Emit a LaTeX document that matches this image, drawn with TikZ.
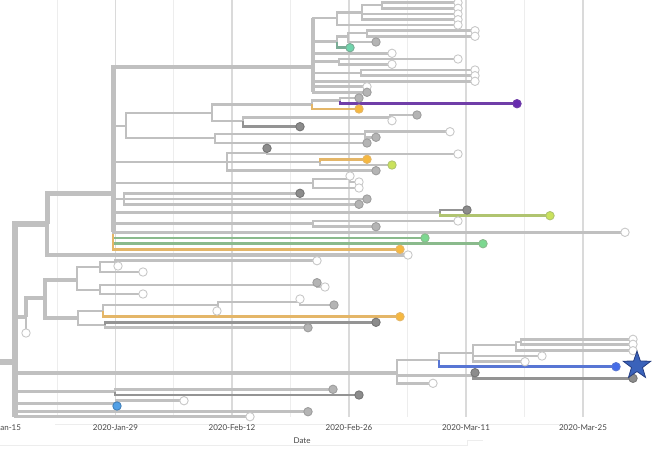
\documentclass[tikz,border=0pt]{standalone}
\usepackage{fontspec}
\setmainfont{Lato}
\usetikzlibrary{shapes.geometric}

\definecolor{brgrey}{RGB}{192,192,192}
\definecolor{brdark}{RGB}{148,148,148}
\definecolor{gridmaj}{RGB}{218,218,218}
\definecolor{gridmin}{RGB}{237,237,237}
\definecolor{leafline}{RGB}{200,200,200}
\definecolor{leafgrey}{RGB}{180,180,180}
\definecolor{leafgreyline}{RGB}{158,158,158}
\definecolor{leafdark}{RGB}{140,140,140}
\definecolor{leafdarkline}{RGB}{118,118,118}
\definecolor{orangebr}{RGB}{228,182,104}
\definecolor{orangeleaf}{RGB}{246,184,64}
\definecolor{purplebr}{RGB}{112,62,168}
\definecolor{purpleleaf}{RGB}{104,44,176}
\definecolor{tealbr}{RGB}{122,172,150}
\definecolor{tealleaf}{RGB}{112,212,172}
\definecolor{greenbr}{RGB}{138,186,140}
\definecolor{greenleaf}{RGB}{124,216,144}
\definecolor{olivebr}{RGB}{176,196,112}
\definecolor{limeleaf}{RGB}{202,226,92}
\definecolor{bluebr}{RGB}{88,118,212}
\definecolor{blueleaf}{RGB}{68,108,232}
\definecolor{skyleaf}{RGB}{82,160,230}
\definecolor{starfill}{RGB}{58,98,186}
\definecolor{starline}{RGB}{38,62,130}
\definecolor{axistext}{RGB}{70,70,70}

\begin{document}
\begin{tikzpicture}
[x=1pt, y=-1pt, line join=miter,
br/.style={draw=brgrey, line width=2.6pt},
brk/.style={br, draw=brdark},
brmid/.style={br, line width=3.6pt},
brbig/.style={br, line width=5pt},
brtrunk/.style={br, line width=6.5pt},
leaf/.style={circle, inner sep=0pt, minimum size=8.4pt, line width=0.9pt},
leafw/.style={leaf, fill=white, draw=leafline},
leafg/.style={leaf, fill=leafgrey, draw=leafgreyline},
leafk/.style={leaf, fill=leafdark, draw=leafdarkline},
axislab/.style={text=axistext, font=\fontsize{8}{9}\selectfont, inner sep=1pt}
]
\useasboundingbox (0,0) rectangle (660,450);

% time grid
\foreach \gx in {57,173.5,290.5,407.5,524.5}
  \draw[gridmin, line width=1pt] (\gx,0) -- (\gx,417);
\foreach \gx in {115.5,232,349,466,583}
  \draw[gridmaj, line width=1.1pt] (\gx,0) -- (\gx,417);
\draw[gridmin, line width=0.8pt] (55,424) -- (573,424);
\draw[gridmin, line width=0.8pt] (0,445) -- (467,445) -- (467,440) -- (483,440);
\foreach \gx/\lab [count=\i] in {-1.5/2020-Jan-15, 115.5/2020-Jan-29, 232/2020-Feb-12,
    349/2020-Feb-26, 466/2020-Mar-11, 583/2020-Mar-25}
  \node[axislab] (date\i) at (\gx,428) {\lab};
\node[axislab] (datetitle) at (302,441) {Date};

% internal nodes
\coordinate (root0) at (0,362);
\coordinate (root) at (15,362);
\coordinate (R) at (47,224);
\coordinate (C) at (113,193);
\coordinate (T) at (313,67);
\coordinate (A0) at (337,18);
\coordinate (A1) at (362,12.3);
\coordinate (A2) at (382,5);
\coordinate (B0) at (337,41.7);
\coordinate (B1) at (348,36.7);
\coordinate (B2) at (367,33);
\coordinate (Tc) at (339,61.7);
\coordinate (Td) at (361,72.8);
\coordinate (D) at (126,126);
\coordinate (E) at (212,113);
\coordinate (F) at (215,138);
\coordinate (G) at (312,104.3);
\coordinate (G2) at (340,100.7);
\coordinate (H) at (243,121);
\coordinate (I) at (390,117.7);
\coordinate (J) at (365,134);
\coordinate (K) at (227,162);
\coordinate (L) at (267,153);
\coordinate (M) at (320,162);
\coordinate (N) at (313,183);
\coordinate (N2) at (350,179);
\coordinate (O) at (124,199);
\coordinate (P) at (440,212.7);
\coordinate (Q) at (313,223.5);
\coordinate (S) at (26,317);
\coordinate (U) at (45,298);
\coordinate (V) at (77,280);
\coordinate (V1) at (100,267);
\coordinate (V1a) at (115,262);
\coordinate (V2) at (100,290);
\coordinate (V2a) at (317,285);
\coordinate (W) at (78,318);
\coordinate (W1) at (103,311);
\coordinate (W1b) at (105,325);
\coordinate (X) at (218,305);
\coordinate (X2) at (300,302);
\coordinate (Y) at (397,372.7);
\coordinate (Y1) at (439,360);
\coordinate (Y2) at (473,375.5);
\coordinate (Y3) at (473,353);
\coordinate (Y4) at (516,345);
\coordinate (Y5) at (521,341.8);
\coordinate (Z) at (115,391.7);
\coordinate (Zb) at (116,403.3);

% tips
\coordinate (a1) at (458,2.7);   \coordinate (a2) at (458,8.3);
\coordinate (a3) at (458,14);    \coordinate (a4) at (458,19.7);
\coordinate (a5) at (458,25);
\coordinate (b1) at (475,30.7);  \coordinate (b2) at (475,36.3);
\coordinate (b3) at (376,42);    \coordinate (b4) at (350,47.7);
\coordinate (t1) at (392,53.3);
\coordinate (c1) at (458,59);    \coordinate (c2) at (392,64.3);
\coordinate (d1) at (475,70);    \coordinate (d2) at (475,75.7);
\coordinate (t2) at (475,81.3);  \coordinate (t3) at (367,86.7);
\coordinate (t4) at (367,92.3);
\coordinate (g1) at (359,98);    \coordinate (g2) at (517,103.7);
\coordinate (g3) at (359,109);
\coordinate (i1) at (417,115);   \coordinate (i2) at (392,120.7);
\coordinate (h1) at (300,126.7);
\coordinate (j1) at (450,131.7); \coordinate (j2) at (376,137.3);
\coordinate (f1) at (367,143);
\coordinate (l1) at (267,148.3); \coordinate (l2) at (458,154);
\coordinate (m1) at (367,159.3); \coordinate (m2) at (392,165);
\coordinate (k1) at (376,170.7);
\coordinate (n1) at (350,176);   \coordinate (n2) at (359,182);
\coordinate (n3) at (359,188);
\coordinate (o1) at (300,193.3); \coordinate (o2) at (367,199);
\coordinate (o3) at (359,204.3);
\coordinate (p1) at (467,210);   \coordinate (p2) at (550,215.7);
\coordinate (q1) at (458,221);   \coordinate (q2) at (376,226.7);
\coordinate (c5) at (625,232.3); \coordinate (c6) at (425,238);
\coordinate (c7) at (483,243.7); \coordinate (c8) at (400,249.3);
\coordinate (r1) at (408,255);
\coordinate (v1) at (317,260.7); \coordinate (v2) at (118,266);
\coordinate (v3) at (143,272);
\coordinate (v4) at (317,282.7); \coordinate (v5) at (325,287);
\coordinate (v6) at (143,294);
\coordinate (x1) at (300,299);   \coordinate (x2) at (334,305);
\coordinate (x3) at (217,311);
\coordinate (w1) at (400,316.7); \coordinate (w2) at (376,322.3);
\coordinate (w3) at (308,327.7);
\coordinate (s1) at (26,333);
\coordinate (y1) at (633,339.3); \coordinate (y2) at (633,344.3);
\coordinate (y3) at (633,350.7); \coordinate (y4) at (542,356);
\coordinate (y5) at (525,361.7); \coordinate (y6) at (616,366.7);
\coordinate (y7) at (475,372.7); \coordinate (y8) at (633,378.3);
\coordinate (y9) at (433,383.3);
\coordinate (z1) at (333,389.3); \coordinate (z2) at (359,395);
\coordinate (z3) at (184,400.7); \coordinate (z4) at (117,406);
\coordinate (z5) at (308,411.7); \coordinate (z6) at (250,416.7);

% coloured branches off the big clade go under its stem
\draw[br, draw=greenbr] (C) |- (c6) (C) |- (c7);
\draw[br, draw=orangebr] (C) |- (c8);

% backbone
\draw[brtrunk] (root0) -- (root) (root |- R) -- (root |- z6) (root) |- (R);
\draw[brbig] (R) |- (C) (C |- T) -- (C |- c5);
\draw[brmid] (C) |- (T) (R) |- (r1) (T |- A0) -- (T |- t4);
\draw[brmid] (root) |- (S) (S) |- (U) (U) |- (V) (U) |- (W) (root) |- (Y);

% grey branches
\draw[br] (root) |- (Z) (root) |- (Zb) (root) |- (z5) (root) |- (z6)
  (C) |- (D) (C) |- (K) (C) |- (N) (C) |- (O) (C) |- (P) (C) |- (Q) (C) |- (c5)
  (T) |- (A0) (T) |- (B0) (T) |- (t1) (T) |- (Tc) (T) |- (Td) (T) |- (t2) (T) |- (t3) (T) |- (t4)
  (A0) |- (A1) (A0) |- (a5) (A1) |- (A2) (A1) |- (a3) (A1) |- (a4) (A2) |- (a1) (A2) |- (a2)
  (B0) |- (B1) (B1) |- (B2) (B1) |- (b3) (B2) |- (b1) (B2) |- (b2)
  (Tc) |- (c1) (Tc) |- (c2) (Td) |- (d1) (Td) |- (d2)
  (D) |- (E) (D) |- (F) (E) |- (G) (E) |- (H) (G) |- (G2) (G2) |- (g1)
  (H) |- (I) (I) |- (i1) (I) |- (i2)
  (F) |- (J) (F) |- (f1) (J) |- (j1) (J) |- (j2)
  (K) |- (L) (K) |- (M) (K) |- (k1) (L) |- (l1) (L) |- (l2) (M) |- (m2)
  (N) |- (N2) (N) |- (n3) (N2) |- (n1) (N2) |- (n2)
  (O) |- (o1) (O) |- (o2) (O) |- (o3)
  (Q) |- (q1) (Q) |- (q2)
  (S) |- (s1) (V) |- (V1) (V) |- (V2) (V1) |- (V1a) (V1) |- (v3) (V1a) |- (v1) (V1a) |- (v2)
  (V2) |- (V2a) (V2) |- (v6) (V2a) |- (v4) (V2a) |- (v5)
  (W) |- (W1) (W) |- (W1b) (W1) |- (X) (X) |- (X2) (X) |- (x3) (X2) |- (x1) (X2) |- (x2)
  (W1b) |- (w3)
  (Y) |- (Y1) (Y) |- (Y2) (Y) |- (y9) (Y1) |- (Y3) (Y3) |- (Y4) (Y3) |- (y4) (Y3) |- (y5)
  (Y4) |- (Y5) (Y4) |- (y3) (Y5) |- (y1) (Y5) |- (y2) (Y2) |- (y7)
  (Z) |- (z1) (Zb) |- (z3) (Zb) |- (z4);
\draw[brk] (H) |- (h1) (P) |- (p1) (W1b) |- (w2) (Y2) |- (y8) (Z) |- (z2);

% coloured branches
\draw[br, draw=tealbr] (B0) |- (b4);
\draw[br, draw=orangebr] (G) |- (g3) (M) |- (m1) (W1) |- (w1);
\draw[br, draw=purplebr] (G2) |- (g2);
\draw[br, draw=olivebr] (P) |- (p2);
\draw[br, draw=bluebr] (Y1) |- (y6);

% tip markers
\foreach \t in {a1,a2,a3,a4,a5,b1,b2,t1,c1,c2,d1,d2,t2,t3,i2,j1,l2,n1,n2,n3,q1,c5,r1,
    s1,v1,v2,v3,v5,v6,x1,x3,y1,y2,y3,y4,y5,y9,z3,z6}
  \node[leafw] (dot-\t) at (\t) {};
\foreach \t in {b3,t4,g1,i1,j2,f1,k1,o2,o3,q2,v4,x2,w3,z1,z5}
  \node[leafg] (dot-\t) at (\t) {};
\foreach \t in {h1,l1,o1,p1,w2,y7,y8,z2}
  \node[leafk] (dot-\t) at (\t) {};
\foreach \t in {g3,m1,c8,w1}
  \node[leaf, fill=orangeleaf, draw=orangebr] (dot-\t) at (\t) {};
\foreach \t in {m2,p2}
  \node[leaf, fill=limeleaf, draw=olivebr] (dot-\t) at (\t) {};
\foreach \t in {c6,c7}
  \node[leaf, fill=greenleaf, draw=greenbr] (dot-\t) at (\t) {};
\node[leaf, fill=tealleaf, draw=tealbr] (dot-b4) at (b4) {};
\node[leaf, fill=purpleleaf, draw=purplebr] (dot-g2) at (g2) {};
\node[leaf, fill=blueleaf, draw=bluebr] (dot-y6) at (y6) {};
\node[leaf, fill=skyleaf, draw=skyleaf!80!black] (dot-z4) at (z4) {};

\node[star, star points=5, star point ratio=2.5, minimum size=29pt, inner sep=0pt,
  fill=starfill, draw=starline, line width=0.8pt] (flagstar) at (637,365.7) {};
\end{tikzpicture}
\end{document}
